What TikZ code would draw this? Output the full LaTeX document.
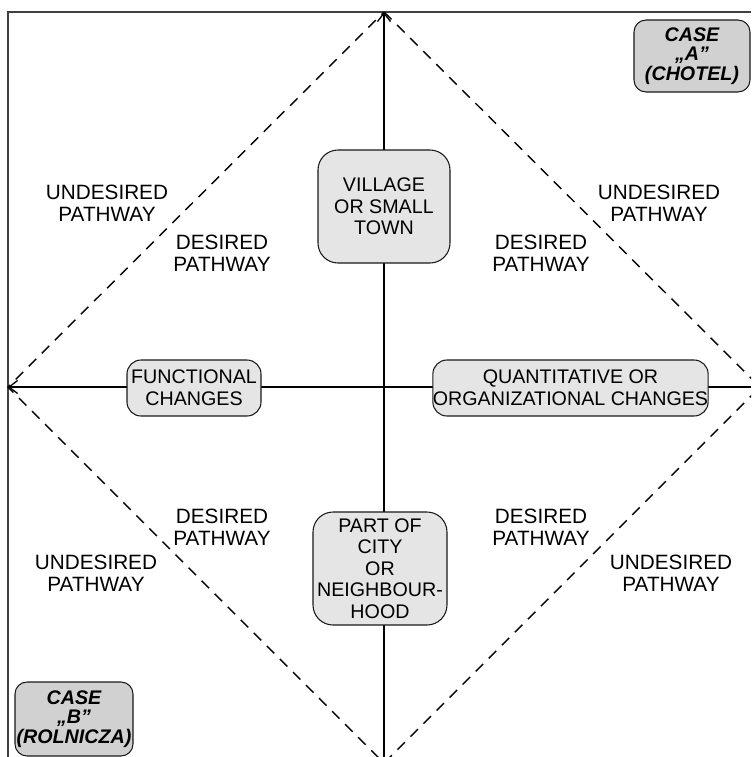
\documentclass[tikz,border=0pt]{standalone}
\usepackage{fontspec}
\setmainfont{Liberation Sans}
\usetikzlibrary{arrows.meta}

\begin{document}
\begin{tikzpicture}[x=0.2mm,y=-0.2mm]
\tikzstyle{axis}=[line width=0.75pt,-{Straight Barb[length=1.7mm,width=2.6mm]}]
\tikzstyle{boundary}=[dash pattern=on 6pt off 4.5pt,line width=0.8pt]
\tikzstyle{frame}=[line width=0.9pt,draw=black!75]
\tikzstyle{place}=[draw=black!90,fill=black!10,line width=0.6pt,rounded corners=4mm,align=center,inner sep=0pt,font=\fontsize{11.2}{12.3}\selectfont]
\tikzstyle{change}=[place,rounded corners=2.8mm]
\tikzstyle{case}=[place,fill=black!18,rounded corners=2.4mm,font=\bfseries\itshape\fontsize{11.2}{11.2}\selectfont]
\tikzstyle{way}=[align=center,inner sep=0pt,font=\fontsize{11.8}{12.3}\selectfont]
% end of definitions
\useasboundingbox (0,0) rectangle (751,757);
\clip (0,0) rectangle (751,757);
\coordinate (top) at (384,12);
\coordinate (left) at (8,387);
\coordinate (right) at (760,387);
\coordinate (bottom) at (384,763);
\coordinate (axisend) at (751,387);
\coordinate (axisfoot) at (384,757);
\draw[frame] (left |- 0,757) -- (8,12) -- (751,12); %frame
\draw[boundary] (top) -- (right) -- (bottom) -- (left) -- cycle; %pathways
\draw[axis] (axisfoot) -- (top);
\draw[axis] (axisend) -- (left);
\node[place,minimum width=26.4mm,minimum height=22.6mm] (village) at (384,206.5) {VILLAGE\\OR SMALL\\TOWN};
\node[place,minimum width=26.8mm,minimum height=22.6mm] (city) at (380,568.5) {PART OF\\CITY\\OR\\NEIGHBOUR-\\HOOD};
\node[change,minimum width=26.8mm,minimum height=11.2mm] (functional) at (194,388) {FUNCTIONAL\\CHANGES};
\node[change,minimum width=55mm,minimum height=11.2mm] (quantitative) at (570.5,388) {QUANTITATIVE OR\\ORGANIZATIONAL CHANGES};
\node[case,minimum width=23.2mm,minimum height=14.4mm] (casea) at (692,56) {CASE\\„A”\\(CHOTEL)};
\node[case,minimum width=23.6mm,minimum height=14.8mm] (caseb) at (74,719) {CASE\\„B”\\(ROLNICZA)};
% pathway labels
\node[way] (undesirednw) at (107,203) {UNDESIRED\\PATHWAY};
\node[way] (desirednw) at (222,253) {DESIRED\\PATHWAY};
\node[way] (desiredne) at (541,253) {DESIRED\\PATHWAY};
\node[way] (undesiredne) at (659,203) {UNDESIRED\\PATHWAY};
\node[way] (desiredsw) at (222,527) {DESIRED\\PATHWAY};
\node[way] (undesiredsw) at (96,573) {UNDESIRED\\PATHWAY};
\node[way] (desiredse) at (541,527) {DESIRED\\PATHWAY};
\node[way] (undesiredse) at (671,573) {UNDESIRED\\PATHWAY};
\end{tikzpicture}
\end{document}
